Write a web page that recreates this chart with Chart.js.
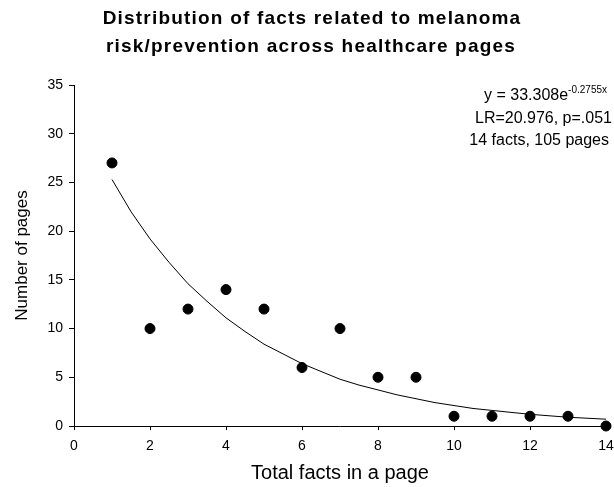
<!DOCTYPE html>
<html>
<head>
<meta charset="utf-8">
<script src="https://cdn.jsdelivr.net/npm/chart.js@4.4.1/dist/chart.umd.min.js"></script>
<style>
  html, body { margin: 0; padding: 0; background: #fff; }
  #wrap { width: 614px; height: 487px; position: relative; }
</style>
</head>
<body>
<div id="wrap"><canvas id="factsChart"></canvas></div>
<script>
// observed pages per fact count
const factCounts = [1, 2, 3, 4, 5, 6, 7, 8, 9, 10, 11, 12, 13, 14];
const pageCounts = [27, 10, 12, 14, 12, 6, 10, 5, 5, 1, 1, 1, 1, 0];

// fitted curve
const fitX = [1, 1.5, 2, 2.5, 3, 3.5, 4, 4.5, 5, 5.5, 6, 6.5, 7, 7.5, 8, 8.5, 9, 9.5, 10, 10.5, 11, 11.5, 12, 12.5, 13, 13.5, 14];
const fitY = [25.3, 22.0, 19.2, 16.8, 14.6, 12.8, 11.1, 9.7, 8.4, 7.4, 6.4, 5.6, 4.8, 4.2, 3.7, 3.2, 2.8, 2.4, 2.1, 1.8, 1.6, 1.4, 1.2, 1.05, 0.9, 0.8, 0.7];

const xTicks = [0, 2, 4, 6, 8, 10, 12, 14];
const yTicks = [0, 5, 10, 15, 20, 25, 30, 35];

const titleLines = ["Distribution of facts related to melanoma", "risk/prevention across healthcare pages"];
const noteLines = ["LR=20.976, p=.051", "14 facts, 105 pages"];

const FONT = "'Liberation Sans', Arial, sans-serif";

// title and fit note drawn on top
const textPlugin = {
    id: "textPlugin",
    afterDraw(chart) {
        const ctx = chart.ctx;
        ctx.save();
        ctx.fillStyle = "#000";
        ctx.textBaseline = "middle";

        ctx.font = "bold 19px " + FONT;
        ctx.letterSpacing = "1.2px";
        ctx.textAlign = "center";
        ctx.fillText(titleLines[0], 312, 19);
        ctx.fillText(titleLines[1], 311, 47);
        ctx.letterSpacing = "0px";

        // equation with superscript exponent
        const right = 607;
        ctx.textAlign = "left";
        ctx.font = "10px " + FONT;
        const expText = "-0.2755x";
        const expW = ctx.measureText(expText).width;
        ctx.font = "16px " + FONT;
        const baseText = "y = 33.308e";
        const baseW = ctx.measureText(baseText).width;
        const startX = right - expW - baseW;
        ctx.fillText(baseText, startX, 96);
        ctx.font = "10px " + FONT;
        ctx.fillText(expText, startX + baseW, 90);

        ctx.font = "16px " + FONT;
        ctx.textAlign = "right";
        ctx.fillText(noteLines[0], 612, 119);
        ctx.fillText(noteLines[1], 609, 141);
        ctx.restore();
    }
};

const ctx = document.getElementById("factsChart").getContext("2d");
const myChart = new Chart(ctx, {
    type: "scatter",
    data: {
        datasets: [
            {
                label: "Pages",
                data: factCounts.map((x, i) => ({ x: x, y: pageCounts[i] })),
                backgroundColor: "#000",
                borderColor: "#000",
                pointRadius: 5,
                pointHoverRadius: 5,
                clip: false
            },
            {
                label: "Fit",
                data: fitX.map((x, i) => ({ x: x, y: fitY[i] })),
                showLine: true,
                borderColor: "#000",
                borderWidth: 1,
                pointRadius: 0,
                tension: 0,
                fill: false
            }
        ]
    },
    options: {
        responsive: true,
        maintainAspectRatio: false,
        animation: false,
        layout: { padding: { top: 85, right: 8, left: 0, bottom: 0 } },
        plugins: {
            legend: { display: false },
            tooltip: { enabled: false },
            title: { display: false }
        },
        scales: {
            x: {
                type: "linear",
                min: 0,
                max: 14,
                afterBuildTicks: (scale) => { scale.ticks = xTicks.map(v => ({ value: v })); },
                afterFit: (scale) => {
                    scale.height = 61;
                    scale.paddingRight = 0;
                },
                grid: { drawOnChartArea: false, drawTicks: true, tickLength: 4, color: "#000" },
                border: { display: true, color: "#000", width: 1 },
                ticks: { color: "#000", font: { family: FONT, size: 14 }, padding: 8 },
                title: {
                    display: true,
                    text: "Total facts in a page",
                    color: "#000",
                    font: { family: FONT, size: 20 },
                    padding: { top: 0, bottom: 2 }
                }
            },
            y: {
                type: "linear",
                min: 0,
                max: 35,
                afterBuildTicks: (scale) => { scale.ticks = yTicks.map(v => ({ value: v })); },
                afterFit: (scale) => { scale.width = 74; },
                grid: { drawOnChartArea: false, drawTicks: true, tickLength: 5, color: "#000" },
                border: { display: true, color: "#000", width: 1 },
                ticks: { color: "#000", font: { family: FONT, size: 14 }, padding: 6 },
                title: {
                    display: true,
                    text: "Number of pages",
                    color: "#000",
                    font: { family: FONT, size: 17 },
                    padding: { top: 12, bottom: 0 }
                }
            }
        }
    },
    plugins: [textPlugin]
});
</script>
</body>
</html>
